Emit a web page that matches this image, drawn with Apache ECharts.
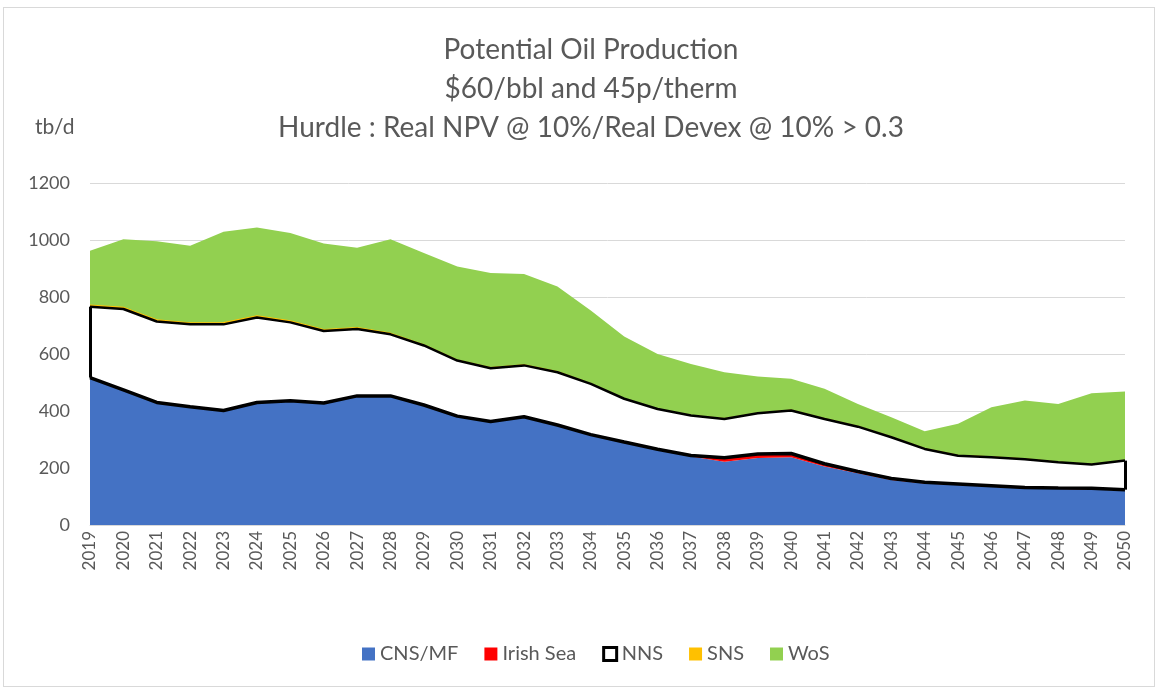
<!DOCTYPE html>
<html>
<head>
<meta charset="utf-8">
<script src="https://cdn.jsdelivr.net/npm/echarts@6/dist/echarts.min.js"></script>
<style>
  html, body { margin: 0; padding: 0; background: #fff; }
  .frame { position: absolute; left: 3px; top: 7px; width: 1152px; height: 680px; border: 1px solid #d9d9d9; box-sizing: border-box; }
  #chart { position: absolute; left: 0; top: 0; width: 1157px; height: 689px; }
</style>
</head>
<body>
<div class="frame"></div>
<div id="chart"></div>
<script>
const years = [];
for (let y = 2019; y <= 2050; y++) years.push(String(y));

const yTicks = [0, 200, 400, 600, 800, 1000, 1200];

const cnsMf = [515, 472, 428, 413, 400, 428, 434, 426, 451, 451, 419, 380, 361, 378, 349, 314,
  288, 263, 240, 222, 235, 238, 205, 182, 158, 146, 140, 134, 128, 126, 125, 120];
const irishSea = [2, 2, 2, 2, 2, 2, 2, 2, 2, 2, 2, 2, 2, 2, 2, 3,
  3, 3, 4, 14, 14, 13, 10, 6, 5, 4, 4, 4, 4, 4, 4, 4];
const nns = [249, 284, 284, 289, 302, 298, 275, 253, 235, 216, 209, 195, 187, 180, 185, 178,
  152, 141, 140, 136, 143, 151, 157, 157, 145, 117, 99, 100, 99, 90, 83, 102];
const sns = [6, 6, 6, 5, 6, 6, 5, 5, 5, 4, 2, 2, 2, 2, 2, 1,
  1, 1, 1, 1, 1, 1, 1, 1, 1, 1, 1, 1, 1, 1, 1, 1];
const wos = [190, 239, 276, 271, 319, 310, 309, 302, 280, 330, 322, 328, 332, 319, 299, 257,
  217, 192, 180, 163, 128, 110, 105, 79, 69, 61, 111, 174, 205, 204, 249, 241];

const chart = echarts.init(document.getElementById("chart"));
const font = "Lato, 'Open Sans', sans-serif";
const grey = "#595959";

// NNS edges at the first and last year
const last = years.length - 1;
const nnsBottom = (i) => cnsMf[i] + irishSea[i];
const nnsTop = (i) => nnsBottom(i) + nns[i];

const option = {
  animation: false,
  textStyle: { fontFamily: font },
  title: [
    {
      text: "Potential Oil Production\n$60/bbl and 45p/therm\nHurdle : Real NPV @ 10%/Real Devex @ 10% > 0.3",
      left: 586,
      top: 25,
      textAlign: "center",
      textStyle: { fontFamily: font, fontSize: 28, fontWeight: "normal", color: grey, lineHeight: 39 },
    },
    {
      text: "tb/d",
      left: 30,
      top: 112,
      textStyle: { fontFamily: font, fontSize: 21, fontWeight: "normal", color: grey },
    },
  ],
  legend: {
    bottom: 20,
    left: 357,
    icon: "rect",
    itemWidth: 13,
    itemHeight: 13,
    itemGap: 26,
    textStyle: { fontFamily: font, fontSize: 20, color: grey },
    data: [
      { name: "CNS/MF", itemStyle: { color: "#4472c4" } },
      { name: "Irish Sea", itemStyle: { color: "#ff0000" } },
      { name: "NNS", itemStyle: { color: "#ffffff", borderColor: "#000", borderWidth: 3 } },
      { name: "SNS", itemStyle: { color: "#ffc000" } },
      { name: "WoS", itemStyle: { color: "#92d050" } },
    ],
  },
  grid: { left: 90, right: 32, top: 183, bottom: 164 },
  xAxis: {
    type: "category",
    data: years,
    boundaryGap: false,
    axisLine: { lineStyle: { color: "#d9d9d9" } },
    axisTick: { show: false },
    axisLabel: { rotate: 90, color: grey, fontSize: 17, margin: 6, interval: 0 },
  },
  yAxis: {
    type: "value",
    min: yTicks[0],
    max: yTicks[yTicks.length - 1],
    interval: 200,
    axisLine: { show: false },
    axisTick: { show: false },
    axisLabel: { color: grey, fontSize: 18, margin: 20, formatter: (v) => String(v) },
    splitLine: { lineStyle: { color: "#d9d9d9", width: 1 } },
  },
  series: [
    {
      name: "CNS/MF",
      type: "line",
      stack: "total",
      symbol: "none",
      data: cnsMf,
      itemStyle: { color: "#4472c4" },
      lineStyle: { width: 0 },
      areaStyle: { color: "#4472c4", opacity: 1 },
    },
    {
      name: "Irish Sea",
      type: "line",
      stack: "total",
      symbol: "none",
      z: 5,
      data: irishSea,
      itemStyle: { color: "#ff0000" },
      lineStyle: { width: 3.5, color: "#000" },
      areaStyle: { color: "#ff0000", opacity: 1 },
    },
    {
      name: "NNS",
      type: "line",
      stack: "total",
      symbol: "none",
      z: 4,
      data: nns,
      itemStyle: { color: "#ffffff" },
      lineStyle: { width: 2.5, color: "#000" },
      areaStyle: { color: "#ffffff", opacity: 1 },
      markLine: {
        silent: true,
        symbol: "none",
        label: { show: false },
        lineStyle: { color: "#000", width: 3, type: "solid" },
        data: [
          [{ coord: [years[0], nnsBottom(0)] }, { coord: [years[0], nnsTop(0)] }],
          [{ coord: [years[last], nnsBottom(last)] }, { coord: [years[last], nnsTop(last)] }],
        ],
      },
    },
    {
      name: "SNS",
      type: "line",
      stack: "total",
      symbol: "none",
      z: 3,
      data: sns,
      itemStyle: { color: "#ffc000" },
      lineStyle: { width: 1.2, color: "#ffc000" },
      areaStyle: { color: "#ffc000", opacity: 1 },
    },
    {
      name: "WoS",
      type: "line",
      stack: "total",
      symbol: "none",
      data: wos,
      itemStyle: { color: "#92d050" },
      lineStyle: { width: 0 },
      areaStyle: { color: "#92d050", opacity: 1 },
    },
  ],
};
chart.setOption(option);
</script>
</body>
</html>
